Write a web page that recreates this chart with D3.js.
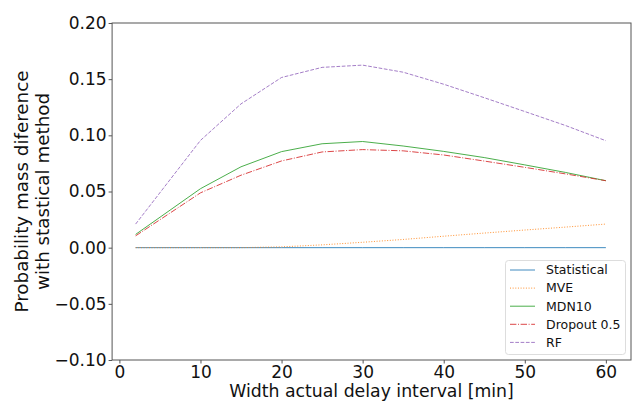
<!DOCTYPE html>
<html><head><meta charset="utf-8">
<script src="https://cdn.jsdelivr.net/npm/d3@7"></script>
<style>body{margin:0;background:#fff}svg{display:block;font-family:"DejaVu Sans",sans-serif}</style>
</head><body><svg id="c" width="635" height="403"></svg>
<script>
const widths = [2, 10, 15, 20, 25, 30, 35, 40, 45, 50, 55, 60];
const statistical = [0, 0, 0, 0, 0, 0, 0, 0, 0, 0, 0, 0];
const mve = [0, 0, 0, 0.0007, 0.0025, 0.0048, 0.0073, 0.0102, 0.013, 0.0157, 0.0183, 0.021];
const mdn10 = [0.0118, 0.0525, 0.072, 0.0855, 0.0925, 0.0945, 0.0905, 0.0857, 0.0802, 0.0737, 0.067, 0.0596];
const dropout = [0.0105, 0.0488, 0.0645, 0.0772, 0.0852, 0.0873, 0.0862, 0.0825, 0.0771, 0.0715, 0.0657, 0.0596];
const rf = [0.021, 0.0955, 0.128, 0.1515, 0.1605, 0.1625, 0.1562, 0.1455, 0.1335, 0.1212, 0.1088, 0.0952];
const xTicks = [0, 10, 20, 30, 40, 50, 60];
const yTicks = [-0.10, -0.05, 0.00, 0.05, 0.10, 0.15, 0.20];

const series = [
  {name: "Statistical", values: statistical, color: "#1f77b4", dash: null},
  {name: "MVE", values: mve, color: "#ff7f0e", dash: "1,1.65"},
  {name: "MDN10", values: mdn10, color: "#2ca02c", dash: null},
  {name: "Dropout 0.5", values: dropout, color: "#d62728", dash: "6.4,1.6,1,1.6"},
  {name: "RF", values: rf, color: "#9467bd", dash: "3.7,1.6"}
];

const svg = d3.select("#c");
const L = 112.1, R = 631, T = 23, B = 360;
const x = d3.scaleLinear().domain([-0.9, 63.1]).range([L, R]);
const y = d3.scaleLinear().domain([-0.1, 0.2]).range([B, T]);

const axisColor = "#555";
const gx = svg.append("g").attr("transform", `translate(0,${B})`)
  .call(d3.axisBottom(x).tickValues(xTicks).tickFormat(d3.format("d")).tickSizeInner(3.5).tickSizeOuter(0).tickPadding(2));
const gy = svg.append("g").attr("transform", `translate(${L},0)`)
  .call(d3.axisLeft(y).tickValues(yTicks).tickFormat(d => (d < 0 ? "\u2212" : "") + Math.abs(d).toFixed(2)).tickSizeInner(3.5).tickSizeOuter(0).tickPadding(2));
[gx, gy].forEach(g => {
  g.select(".domain").remove();
  g.selectAll("line").attr("stroke", axisColor);
  g.selectAll("text").attr("fill", "#111").style("font-size", "17px").style("font-family", "DejaVu Sans");
});

const line = d3.line().x((d, i) => x(widths[i])).y(d => y(d));
series.forEach(s => {
  svg.append("path").datum(s.values)
    .attr("d", line).attr("fill", "none")
    .attr("stroke", s.color).attr("stroke-width", 1).attr("stroke-opacity", 0.85)
    .attr("stroke-dasharray", s.dash);
});

svg.append("rect").attr("x", L).attr("y", T).attr("width", R - L).attr("height", B - T)
  .attr("fill", "none").attr("stroke", axisColor).attr("stroke-width", 1);

svg.append("text").attr("x", (L + R) / 2).attr("y", 397).attr("text-anchor", "middle")
  .style("font-size", "17.3px").attr("fill", "#111").text("Width actual delay interval [min]");
const yl = svg.append("text").attr("transform", `translate(28,${(T + B) / 2}) rotate(-90)`)
  .attr("text-anchor", "middle").style("font-size", "18.3px").attr("fill", "#111");
yl.append("tspan").attr("x", 0).attr("dy", 0).text("Probability mass diference");
yl.append("tspan").attr("x", 0).attr("dy", 20.5).text("with stastical method");

const lg = svg.append("g");
lg.append("rect").attr("x", 505.5).attr("y", 260.5).attr("width", 120).attr("height", 94).attr("rx", 3)
  .attr("fill", "#fff").attr("fill-opacity", 0.8).attr("stroke", "#ddd");
series.forEach((s, i) => {
  const yy = 270 + i * 18.1;
  lg.append("line").attr("x1", 510).attr("x2", 535).attr("y1", yy).attr("y2", yy)
    .attr("stroke", s.color).attr("stroke-width", 1).attr("stroke-opacity", 0.85).attr("stroke-dasharray", s.dash);
  lg.append("text").attr("x", 546).attr("y", yy + 4.3).style("font-size", "12.5px").attr("fill", "#111").text(s.name);
});
</script></body></html>
